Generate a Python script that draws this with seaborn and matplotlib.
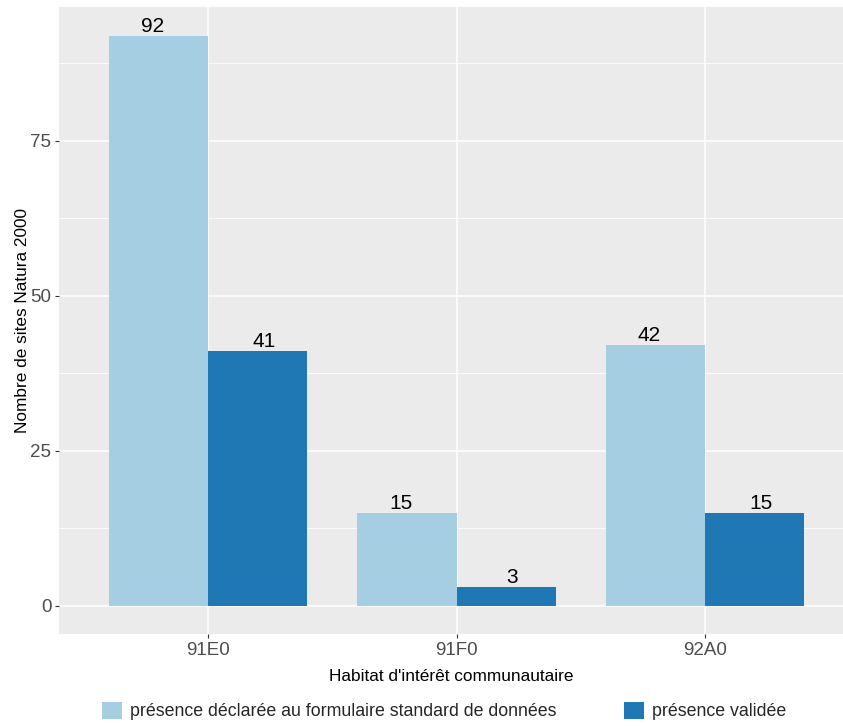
import pandas as pd
import matplotlib
matplotlib.use("Agg")
import matplotlib.pyplot as plt
import seaborn as sns
from matplotlib.patches import Patch
from matplotlib.ticker import MultipleLocator

# ---------------------------------------------------------------------------
# Data
# ---------------------------------------------------------------------------

habitats = ["91E0", "91F0", "92A0"]
declared = [92, 15, 42]
validated = [41, 3, 15]
series_names = [
    "présence déclarée au formulaire standard de données",
    "présence validée",
]
palette = {series_names[0]: "#A6CEE3", series_names[1]: "#1F78B4"}

df = pd.DataFrame({
    "habitat": habitats * 2,
    "n": declared + validated,
    "type": [series_names[0]] * len(habitats) + [series_names[1]] * len(habitats),
})

# ---------------------------------------------------------------------------
# Plot
# ---------------------------------------------------------------------------

sns.set_theme(style="darkgrid")
plt.rcParams["font.family"] = ["Liberation Sans", "DejaVu Sans"]

W, H = 843, 726
fig = plt.figure(figsize=(W / 100, H / 100), dpi=100, facecolor="white")
ax = fig.add_axes([59 / W, 1 - 634 / H, (843 - 59) / W, 627 / H])
ax.set_facecolor("#EBEBEB")

sns.barplot(data=df, x="habitat", y="n", hue="type", palette=palette,
            width=0.8, saturation=1, gap=0, ax=ax, legend=False,
            linewidth=0, edgecolor="none")

# labels dodged a bit wider than the bars (text dodge 0.9 vs bars 0.8)
for i, cont in enumerate(ax.containers):
    shift = (-1 if i == 0 else 1) * 0.025
    for p in cont:
        ax.text(p.get_x() + p.get_width() / 2 + shift, p.get_height(),
                f"{p.get_height():.0f}", ha="center", va="bottom",
                fontsize=15, color="black")

ymax = max(declared + validated)
ax.set_ylim(-0.05 * ymax, 1.05 * ymax)
ax.set_xlim(-0.6, 2.555)

ax.yaxis.set_major_locator(MultipleLocator(25))
ax.yaxis.set_minor_locator(MultipleLocator(12.5))
ax.grid(which="major", color="white", linewidth=1.1)
ax.grid(which="minor", axis="y", color="white", linewidth=0.55)
ax.grid(which="major", axis="x", color="white", linewidth=1.1)
ax.set_axisbelow(True)
for s in ax.spines.values():
    s.set_visible(False)

ax.tick_params(axis="both", which="major", length=3, width=0.8, color="#333333",
               labelcolor="#4D4D4D", labelsize=13.5, pad=2.5, bottom=True, left=True)
ax.tick_params(which="minor", length=0)

ax.set_xlabel("Habitat d'intérêt communautaire", fontsize=12.4, color="black", labelpad=7.5)
ax.set_ylabel("Nombre de sites Natura 2000", fontsize=12.4, color="black", labelpad=0)

handles = [Patch(facecolor=palette[s], edgecolor="none") for s in series_names]
fig.legend(handles, series_names, loc="center", bbox_to_anchor=(444 / W, 1 - 711 / H),
           ncol=2, frameon=False, fontsize=12.75, handlelength=1.15, handleheight=1.15,
           handletextpad=0.45, columnspacing=3.8)

fig.savefig("out.png", dpi=100, facecolor="white")
